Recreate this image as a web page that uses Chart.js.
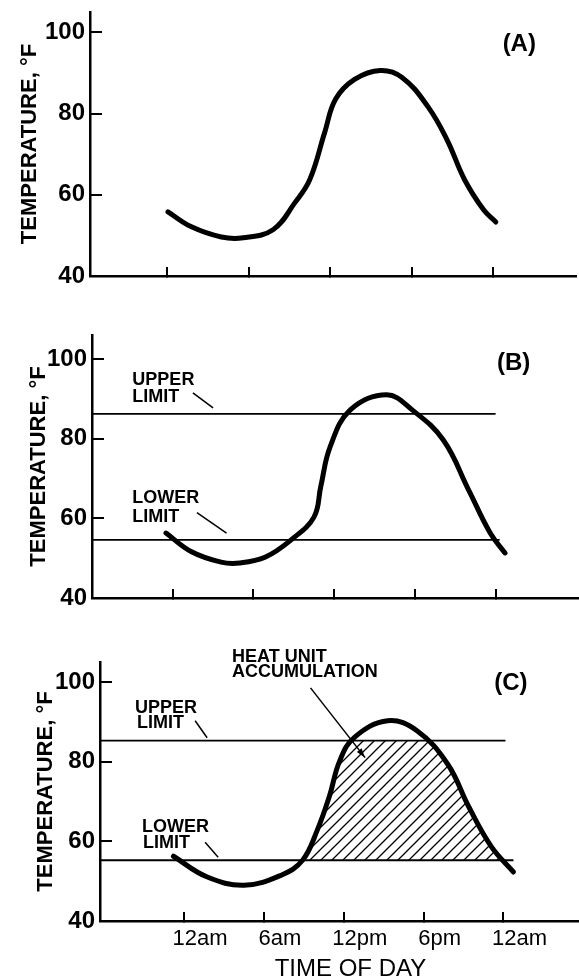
<!DOCTYPE html>
<html>
<head>
<meta charset="utf-8">
<script src="https://cdn.jsdelivr.net/npm/chart.js@4.4.1/dist/chart.umd.min.js"></script>
<style>
  html, body { margin: 0; padding: 0; background: #fff; }
  #wrap { position: relative; width: 579px; height: 980px; overflow: hidden; }
  canvas { position: absolute; left: 0; }
</style>
</head>
<body>
<div id="wrap">
  <canvas id="chartA" width="579" height="300" style="top:0px"></canvas>
  <canvas id="chartB" width="579" height="305" style="top:310px"></canvas>
  <canvas id="chartC" width="579" height="360" style="top:620px"></canvas>
</div>
<script>
'use strict';

// hours after midnight and temperature (F)
let hoursA = [0.07, 1.8, 4.0, 5.6, 7.8, 9.4, 10.5, 11.6, 12.4, 13.8, 15.7, 17.3, 19.2, 20.6, 21.9, 23.3, 24.2];
let tempsA = [55.8, 52.1, 49.6, 49.4, 51.4, 58, 63.7, 75.3, 83.5, 88.4, 90.6, 88.9, 81.7, 73.6, 63.7, 56.3, 53.3];

let hoursB = [-0.5, 1.4, 3.6, 5.0, 6.9, 8.8, 10.5, 11.0, 11.7, 13.2, 15.9, 17.8, 20.1, 22.0, 23.6, 24.7];
let tempsB = [56.3, 51.6, 49, 48.8, 50.3, 54.6, 60.3, 67.9, 77.9, 87.2, 91, 87.2, 79.7, 67.1, 56.3, 51.3];

let hoursC = [-0.8, 1.7, 4.5, 7.3, 8.9, 10.0, 10.9, 11.7, 12.8, 15.3, 17.5, 19.8, 21.4, 23.1, 24.75];
let tempsC = [56.25, 51.1, 49, 51.5, 55.25, 62.75, 71.1, 80.25, 86.1, 90.25, 87.75, 79.4, 68.6, 58.6, 52.3];

// limits: [upper, lower] and the hour where each line stops
let limitsB = [86.2, 54.6];
let limitEndB = [24.0, 24.3];
let limitsC = [85.25, 55.25];
let limitEndC = [24.15, 24.75];

let tempTicks = [40, 60, 80, 100];
let hourTicks = [0, 6, 12, 18, 24];
let timeLabels = ['12am', '6am', '12pm', '6pm', '12am'];

Chart.defaults.font.family = "'Liberation Sans', Arial, sans-serif";
Chart.defaults.color = '#000';

function hatchPattern() {
  let s = 11;
  let cv = document.createElement('canvas');
  cv.width = s; cv.height = s;
  let g = cv.getContext('2d');
  g.strokeStyle = '#000';
  g.lineWidth = 1.3;
  g.beginPath();
  g.moveTo(0, s); g.lineTo(s, 0);
  g.moveTo(-2, 2); g.lineTo(2, -2);
  g.moveTo(s - 2, s + 2); g.lineTo(s + 2, s - 2);
  g.stroke();
  return g.createPattern(cv, 'repeat');
}

// labels, leader lines and arrow, placed in data units
let notes = {
  id: 'notes',
  afterDraw(chart, args, opts) {
    let ctx = chart.ctx, xs = chart.scales.x, ys = chart.scales.y;
    ctx.save();
    ctx.fillStyle = '#000';
    ctx.strokeStyle = '#000';
    ctx.textBaseline = 'middle';
    for (let t of opts.texts || []) {
      ctx.font = t.font;
      ctx.textAlign = t.align || 'left';
      ctx.fillText(t.text, xs.getPixelForValue(t.x), ys.getPixelForValue(t.y));
    }
    ctx.lineWidth = 1.5;
    for (let l of opts.leaders || []) {
      let x1 = xs.getPixelForValue(l.from[0]), y1 = ys.getPixelForValue(l.from[1]);
      let x2 = xs.getPixelForValue(l.to[0]), y2 = ys.getPixelForValue(l.to[1]);
      ctx.beginPath();
      ctx.moveTo(x1, y1);
      ctx.lineTo(x2, y2);
      ctx.stroke();
      if (l.arrow) {
        let a = Math.atan2(y2 - y1, x2 - x1);
        ctx.beginPath();
        ctx.moveTo(x2, y2);
        ctx.lineTo(x2 - 10 * Math.cos(a - 0.3), y2 - 10 * Math.sin(a - 0.3));
        ctx.lineTo(x2 - 10 * Math.cos(a + 0.3), y2 - 10 * Math.sin(a + 0.3));
        ctx.closePath();
        ctx.fill();
      }
    }
    ctx.restore();
  }
};

function toPoints(hours, temps) {
  return hours.map((h, i) => ({ x: h, y: temps[i] }));
}

function panel(id, cfg) {
  let pts = toPoints(cfg.hours, cfg.temps);
  let datasets = [];
  let clear = 'rgba(0,0,0,0)';

  if (cfg.hatch) {
    datasets.push({ data: pts, borderColor: clear, borderWidth: 1, pointRadius: 0,
      tension: 0.4, order: 5,
      fill: { target: { value: cfg.limits[1] }, above: hatchPattern(), below: clear } });
    datasets.push({ data: pts, borderColor: clear, borderWidth: 1, pointRadius: 0,
      tension: 0.4, order: 4,
      fill: { target: { value: cfg.limits[0] }, above: '#fff', below: clear } });
  }
  if (cfg.limits) {
    for (let k = 0; k < 2; k++) {
      datasets.push({
        data: [{ x: cfg.xMin, y: cfg.limits[k] }, { x: cfg.limitEnd[k], y: cfg.limits[k] }],
        borderColor: '#000', borderWidth: 1.8, pointRadius: 0, fill: false, order: 2
      });
    }
  }
  datasets.push({ data: pts, borderColor: '#000', borderWidth: 5, pointRadius: 0, fill: false,
    tension: 0.4, borderCapStyle: 'round', borderJoinStyle: 'round', order: 1 });

  return new Chart(document.getElementById(id), {
    type: 'line',
    data: { datasets: datasets },
    plugins: [notes],
    options: {
      responsive: false,
      animation: false,
      events: [],
      layout: { padding: { top: cfg.padTop, right: cfg.padRight, left: 0, bottom: 0 } },
      plugins: {
        legend: { display: false },
        tooltip: { enabled: false },
        notes: { texts: cfg.texts, leaders: cfg.leaders }
      },
      scales: {
        x: {
          type: 'linear',
          min: cfg.xMin,
          max: cfg.xMax,
          afterBuildTicks: s => { s.ticks = hourTicks.map(v => ({ value: v })); },
          afterFit: s => { s.height = cfg.xHeight; s.paddingLeft = 0; s.paddingRight = 0; },
          grid: { drawOnChartArea: false, tickLength: -9, color: '#000', lineWidth: 2 },
          border: { color: '#000', width: 2.5 },
          ticks: {
            autoSkip: false, maxRotation: 0, padding: 14, labelOffset: 16,
            font: { size: 22 },
            callback: (v, i) => cfg.showTime ? timeLabels[i] : ''
          }
        },
        y: {
          min: 40,
          max: cfg.yMax,
          afterBuildTicks: s => { s.ticks = tempTicks.map(v => ({ value: v })); },
          afterFit: s => { s.width = cfg.left; s.paddingTop = 0; s.paddingBottom = 0; },
          grid: { drawOnChartArea: false, tickLength: -12, color: '#000', lineWidth: 2 },
          border: { color: '#000', width: 2.5 },
          ticks: { padding: 17, font: { size: 24, weight: 'bold' } },
          title: {
            display: true, text: 'TEMPERATURE, °F',
            font: { size: 22, weight: 'bold' }, padding: { top: cfg.titlePad, bottom: 0 }
          }
        }
      }
    }
  });
}

let bold18 = 'bold 18px "Liberation Sans", Arial, sans-serif';
let bold24 = 'bold 24px "Liberation Sans", Arial, sans-serif';

panel('chartA', {
  hours: hoursA, temps: tempsA,
  padTop: 12, padRight: 3, left: 90, xHeight: 24,
  xMin: -5.67, xMax: 30.1, yMax: 105, titlePad: 17, showTime: false,
  texts: [{ text: '(A)', x: 24.7, y: 97, font: bold24 }],
  leaders: []
});

panel('chartB', {
  hours: hoursB, temps: tempsB, limits: limitsB, limitEnd: limitEndB,
  padTop: 25, padRight: 0, left: 92, xHeight: 17,
  xMin: -6.0, xMax: 30.2, yMax: 106, titlePad: 26, showTime: false,
  texts: [
    { text: 'UPPER', x: -3.0, y: 94.8, font: bold18 },
    { text: 'LIMIT', x: -3.0, y: 90.5, font: bold18 },
    { text: 'LOWER', x: -3.0, y: 65.1, font: bold18 },
    { text: 'LIMIT', x: -3.0, y: 60.4, font: bold18 },
    { text: '(B)', x: 24.1, y: 99, font: bold24 }
  ],
  leaders: [
    { from: [1.5, 91.5], to: [3.0, 87.7] },
    { from: [1.8, 61.4], to: [4.0, 56.3] }
  ]
});

panel('chartC', {
  hours: hoursC, temps: tempsC, limits: limitsC, limitEnd: limitEndC, hatch: true,
  padTop: 42, padRight: 1, left: 100, xHeight: 59,
  xMin: -6.32, xMax: 29.6, yMax: 105, titlePad: 33, showTime: true,
  texts: [
    { text: 'UPPER', x: -3.69, y: 93.5, font: bold18 },
    { text: 'LIMIT', x: -3.54, y: 89.75, font: bold18 },
    { text: 'LOWER', x: -3.16, y: 63.5, font: bold18 },
    { text: 'LIMIT', x: -3.08, y: 59.5, font: bold18 },
    { text: 'HEAT UNIT', x: 3.6, y: 106.25, font: bold18 },
    { text: 'ACCUMULATION', x: 3.6, y: 102.5, font: bold18 },
    { text: '(C)', x: 23.3, y: 99.75, font: bold24 },
    { text: 'TIME OF DAY', x: 12.5, y: 27.75, font: '24px "Liberation Sans", Arial, sans-serif', align: 'center' }
  ],
  leaders: [
    { from: [0.83, 90.25], to: [1.73, 86] },
    { from: [1.58, 59.75], to: [2.56, 56] },
    { from: [9.5, 98.5], to: [13.6, 81], arrow: true }
  ]
});
</script>
</body>
</html>
